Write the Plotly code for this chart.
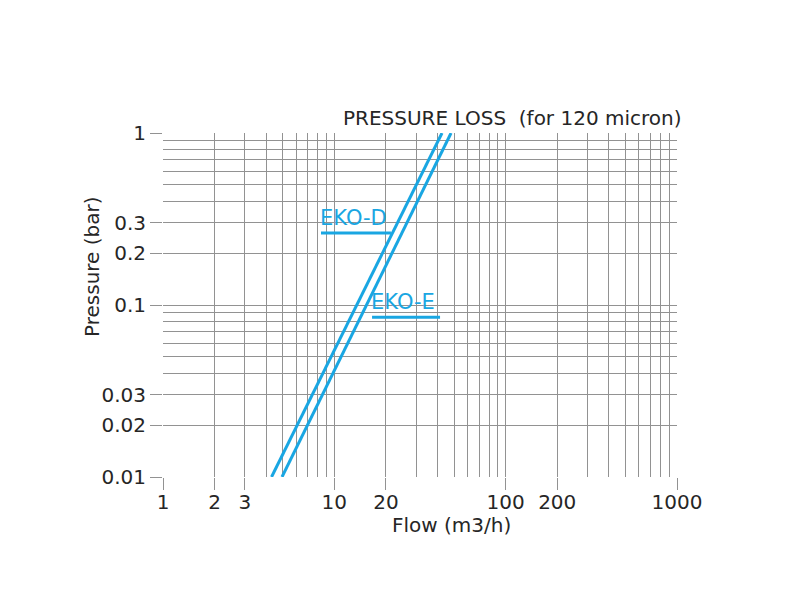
import math
import plotly.graph_objects as go

# Data
series_names = ["EKO-D", "EKO-E"]
pressure_bar = [0.01, 1.0]
flow_eko_d = [4.3, 42.5]
flow_eko_e = [4.95, 48.0]

# Labels (underlined) – flow range of underline and pressure level
label_flow_start = [8.36, 16.6]
label_flow_end = [21.4, 41.4]
label_pressure = [0.262, 0.085]

x_tickvals = [1, 2, 3, 10, 20, 100, 200, 1000]
x_ticktext = ["1", "2", "3", "10", "20", "100", "200", "1000"]
y_tickvals = [0.01, 0.02, 0.03, 0.1, 0.2, 0.3, 1]
y_ticktext = ["0.01", "0.02", "0.03", "0.1", "0.2", "0.3", "1"]

x_minor = [m * 10 ** d for d in range(0, 3) for m in range(1, 10)] + [1000]
y_minor = [m * 10 ** d for d in range(-2, 0) for m in range(1, 10)] + [1]

BLUE = "#19a6e2"
GRID = "#929292"
TXT = "#262626"
FONT = "DejaVu Sans"

fig = go.Figure()
for name, fl in zip(series_names, [flow_eko_d, flow_eko_e]):
    fig.add_trace(go.Scatter(x=fl, y=pressure_bar, mode="lines", name=name,
                             line=dict(color=BLUE, width=3), showlegend=False))

axis_common = dict(type="log", showline=False, zeroline=False,
                   gridcolor=GRID, gridwidth=1.3,
                   ticks="outside", ticklen=12, tickcolor=GRID, tickwidth=1.3,
                   tickfont=dict(family=FONT, size=20, color=TXT))

fig.update_xaxes(range=[0, 3], tickvals=x_tickvals, ticktext=x_ticktext,
                 ticklabelstandoff=-5,
                 minor=dict(tickvals=x_minor, showgrid=True, gridcolor=GRID,
                            gridwidth=1.3, ticks=""),
                 **axis_common)
fig.update_yaxes(range=[-2, 0], tickvals=y_tickvals, ticktext=y_ticktext,
                 minor=dict(tickvals=y_minor, showgrid=True, gridcolor=GRID,
                            gridwidth=1.3, ticks=""),
                 **axis_common)

for name, f0, f1, p in zip(series_names, label_flow_start, label_flow_end, label_pressure):
    fig.add_shape(type="line", xref="x", yref="y", x0=f0, x1=f1, y0=p, y1=p,
                  line=dict(color=BLUE, width=3))
    fig.add_annotation(x=math.log10(f0), y=math.log10(p), xref="x", yref="y",
                       text=name, showarrow=False, xanchor="left", yanchor="bottom",
                       xshift=-3, yshift=1, font=dict(family=FONT, size=21, color=BLUE))

# pixel positions -> converted to paper below
fig.add_annotation(x=684, y=118, xref="paper", yref="paper", text="PRESSURE LOSS  (for 120 micron)",
                   showarrow=False, xanchor="right", yanchor="middle",
                   font=dict(family=FONT, size=20, color=TXT))
fig.add_annotation(text="Flow (m3/h)", x=451, y=525, xref="paper", yref="paper", showarrow=False,
                   xanchor="center", yanchor="middle",
                   font=dict(family=FONT, size=20, color=TXT))
fig.add_annotation(text="Pressure (bar)", x=92, y=267, xref="paper", yref="paper", showarrow=False,
                   textangle=-90, xanchor="center", yanchor="middle",
                   font=dict(family=FONT, size=20, color=TXT))

L, R, T, B = 163, 123, 133, 123
W, H = 800, 600
pw, ph = W - L - R, H - T - B
for ann in fig.layout.annotations:
    if ann.xref == "paper":
        ann.x = (ann.x - L) / pw
        ann.y = (H - B - ann.y) / ph

fig.update_layout(width=W, height=H, margin=dict(l=L, r=R, t=T, b=B),
                  plot_bgcolor="white", paper_bgcolor="white",
                  font=dict(family=FONT, color=TXT))

fig.write_html("out.html")
